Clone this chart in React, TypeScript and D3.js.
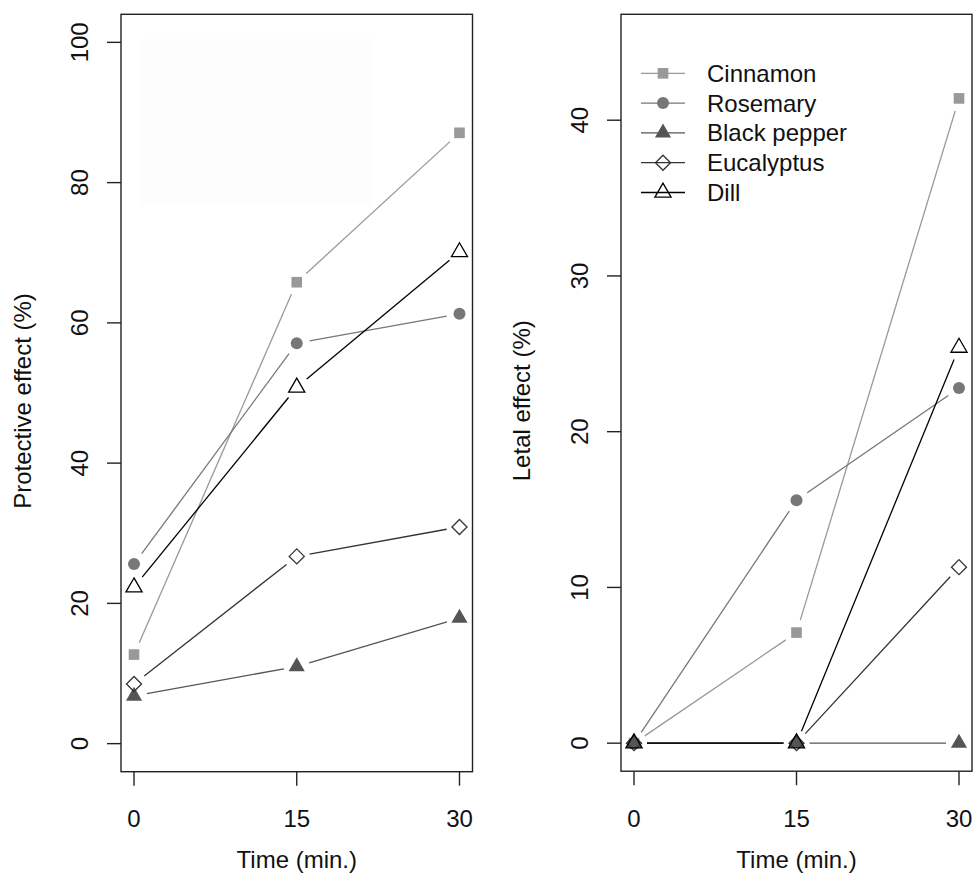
import React, { useEffect, useRef } from 'react';
import * as d3 from 'd3';

const times = [0, 15, 30];
const seriesNames = ['Cinnamon', 'Rosemary', 'Black pepper', 'Eucalyptus', 'Dill'];

// Protective effect (%)
const cinnamonProtective = [12.7, 65.8, 87.1];
const rosemaryProtective = [25.6, 57.1, 61.3];
const pepperProtective = [6.8, 11.0, 17.9];
const eucalyptusProtective = [8.5, 26.7, 30.9];
const dillProtective = [22.3, 50.8, 70.1];

// Letal effect (%)
const cinnamonLetal = [0, 7.1, 41.4];
const rosemaryLetal = [0, 15.6, 22.8];
const pepperLetal = [0, 0, 0];
const eucalyptusLetal = [0, 0, 11.3];
const dillLetal = [0, 0, 25.4];

const protectiveTicks = [0, 20, 40, 60, 80, 100];
const letalTicks = [0, 10, 20, 30, 40];

const styles = [
  { color: '#999999', shape: 'square' },
  { color: '#777777', shape: 'circle' },
  { color: '#555555', shape: 'triangleFilled' },
  { color: '#333333', shape: 'diamond' },
  { color: '#000000', shape: 'triangleOpen' },
];

const FONT = 'Liberation Sans, Arial, sans-serif';
const FS = 24;
const R = 6; // symbol radius
const GAP = 13; // type="b" gap around points

const drawSymbol = (g, shape, color, x, y) => {
  if (shape === 'square') {
    const s = R * 0.886;
    g.append('rect').attr('x', x - s).attr('y', y - s).attr('width', 2 * s).attr('height', 2 * s).attr('fill', color);
  } else if (shape === 'circle') {
    g.append('circle').attr('cx', x).attr('cy', y).attr('r', R).attr('fill', color);
  } else if (shape === 'diamond') {
    const d = R * 1.2533;
    g.append('path')
      .attr('d', `M${x},${y - d}L${x + d},${y}L${x},${y + d}L${x - d},${y}Z`)
      .attr('fill', 'none').attr('stroke', color).attr('stroke-width', 1.3);
  } else {
    const r = R * 1.5551;
    const xc = R * 1.3468;
    const yc = R * 0.7776;
    const p = `M${x},${y - r}L${x + xc},${y + yc}L${x - xc},${y + yc}Z`;
    if (shape === 'triangleFilled') {
      g.append('path').attr('d', p).attr('fill', color);
    } else {
      g.append('path').attr('d', p).attr('fill', 'none').attr('stroke', color).attr('stroke-width', 1.3);
    }
  }
};

const drawPanel = (svg, opts) => {
  const { left, right, top, bottom, yDomain, yTicks, series, yLabel, tickX, titleX, legend } = opts;
  const x = d3.scaleLinear().domain([-1.2, 31.2]).range([left, right]);
  const y = d3.scaleLinear().domain(yDomain).range([bottom, top]);
  const g = svg.append('g');

  if (opts.faintBox) {
    g.append('rect').attr('x', 141).attr('y', 39).attr('width', 232).attr('height', 167).attr('fill', '#fdfdfd');
  }

  series.forEach((vals, i) => {
    const { color, shape } = styles[i];
    const pts = vals.map((v, j) => [x(times[j]), y(v)]);
    for (let j = 0; j < pts.length - 1; j++) {
      const [x0, y0] = pts[j];
      const [x1, y1] = pts[j + 1];
      const len = Math.hypot(x1 - x0, y1 - y0);
      if (len <= 2 * GAP) continue;
      const ux = (x1 - x0) / len;
      const uy = (y1 - y0) / len;
      g.append('line')
        .attr('x1', x0 + ux * GAP).attr('y1', y0 + uy * GAP)
        .attr('x2', x1 - ux * GAP).attr('y2', y1 - uy * GAP)
        .attr('stroke', color).attr('stroke-width', 1.3);
    }
    pts.forEach(([px, py]) => drawSymbol(g, shape, color, px, py));
  });

  // box
  g.append('rect').attr('x', left).attr('y', top).attr('width', right - left).attr('height', bottom - top)
    .attr('fill', 'none').attr('stroke', '#222').attr('stroke-width', 1.4);

  // y axis
  yTicks.forEach((t) => {
    g.append('line').attr('x1', left - 14).attr('x2', left).attr('y1', y(t)).attr('y2', y(t))
      .attr('stroke', '#222').attr('stroke-width', 1.4);
    g.append('text').attr('transform', `translate(${tickX},${y(t)}) rotate(-90)`)
      .attr('text-anchor', 'middle').attr('font-family', FONT).attr('font-size', FS).attr('fill', '#111')
      .text(t);
  });
  g.append('text').attr('transform', `translate(${titleX},${(top + bottom) / 2 + 8}) rotate(-90)`)
    .attr('text-anchor', 'middle').attr('font-family', FONT).attr('font-size', FS).attr('fill', '#111')
    .text(yLabel);

  // x axis
  times.forEach((t) => {
    g.append('line').attr('x1', x(t)).attr('x2', x(t)).attr('y1', bottom).attr('y2', bottom + 14)
      .attr('stroke', '#222').attr('stroke-width', 1.4);
    g.append('text').attr('x', x(t)).attr('y', 827).attr('text-anchor', 'middle')
      .attr('font-family', FONT).attr('font-size', FS).attr('fill', '#111').text(t);
  });
  g.append('text').attr('x', (left + right) / 2).attr('y', 868).attr('text-anchor', 'middle')
    .attr('font-family', FONT).attr('font-size', FS).attr('fill', '#111').text('Time (min.)');

  if (legend) {
    seriesNames.forEach((name, i) => {
      const ly = 73.3 + i * 29.8;
      const { color, shape } = styles[i];
      g.append('line').attr('x1', 641).attr('x2', 685).attr('y1', ly).attr('y2', ly)
        .attr('stroke', color).attr('stroke-width', 1.3);
      drawSymbol(g, shape, color, 663, ly);
      g.append('text').attr('x', 707).attr('y', ly + 8.5).attr('font-family', FONT).attr('font-size', FS)
        .attr('fill', '#111').text(name);
    });
  }
};

const App = () => {
  const ref = useRef(null);

  useEffect(() => {
    const svg = d3.select(ref.current);
    svg.selectAll('*').remove();

    drawPanel(svg, {
      left: 121, right: 472.5, top: 14.3, bottom: 771.7,
      yDomain: [-4, 104], yTicks: protectiveTicks,
      series: [cinnamonProtective, rosemaryProtective, pepperProtective, eucalyptusProtective, dillProtective],
      yLabel: 'Protective effect (%)', tickX: 88, titleX: 31, legend: false, faintBox: true,
    });

    drawPanel(svg, {
      left: 621, right: 972, top: 14.3, bottom: 771.2,
      yDomain: [-1.8, 46.8], yTicks: letalTicks,
      series: [cinnamonLetal, rosemaryLetal, pepperLetal, eucalyptusLetal, dillLetal],
      yLabel: 'Letal effect (%)', tickX: 588, titleX: 530, legend: true,
    });
  }, []);

  return (
    <svg ref={ref} width={974} height={889} style={{ position: 'absolute', left: 0, top: 0, background: 'white' }} />
  );
};

export default App;
